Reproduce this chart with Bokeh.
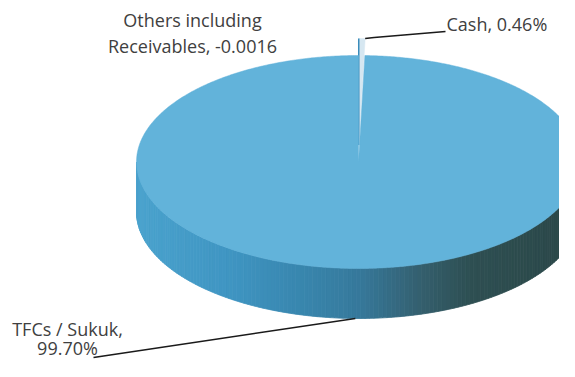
import numpy as np
from bokeh.plotting import figure
from bokeh.models import Range1d
from bokeh.core.properties import value
from bokeh.embed import file_html
from bokeh.resources import INLINE

# ---- data ----
categories = ["Cash", "TFCs / Sukuk", "Others including Receivables"]
values = [0.46, 99.70, -0.0016]
value_labels = ["0.46%", "99.70%", "-0.0016"]

# ---- layout / style ----
W, H = 559, 361
CX, CY = 358.0, 161.5      # centre of top face (picture pixels)
A, B = 222.0, 106.5        # ellipse radii
DEPTH = 50.0
EXPLODE = 17.0
TOP_COLORS = ["#d6e7f1", "#62b3da", "#62b3da"]
SIDE_STOPS = [(137, (74, 162, 205)), (230, (63, 149, 194)), (300, (56, 134, 174)),
              (360, (54, 120, 154)), (420, (52, 95, 110)), (470, (46, 79, 82)),
              (580, (43, 71, 72))]
TEXT_COLOR = "#404040"
FONT = "Open Sans"
FS = "18px"

p = figure(width=W, height=H, x_range=Range1d(0, W), y_range=Range1d(H, 0),
           output_backend="svg", toolbar_location=None, min_border=0)
p.axis.visible = False
p.grid.visible = False
p.outline_line_color = None
p.background_fill_color = "white"

def pt(phi_deg, dx=0.0, dy=0.0, depth=0.0):
    r = np.radians(phi_deg)
    return CX + A * np.sin(r) + dx, CY - B * np.cos(r) + dy + depth

# slice angles (clockwise from 12 o'clock)
pos = [max(v, 0) for v in values]
tot = sum(pos)
starts, ends = [], []
acc = 0.0
for v in pos:
    starts.append(acc / tot * 360)
    acc += v
    ends.append(acc / tot * 360)

def side_color(x):
    xs = [s[0] for s in SIDE_STOPS]
    c = [int(round(np.interp(x, xs, [s[1][k] for s in SIDE_STOPS]))) for k in range(3)]
    return "#%02x%02x%02x" % tuple(c)

# side band (front half) of the big slice, shaded left to right
i_big = 1
lo, hi = max(starts[i_big], 90), min(ends[i_big], 270)
phis = np.linspace(lo, hi, 160)
xs_list, ys_list, cols = [], [], []
for a0, a1 in zip(phis[:-1], phis[1:]):
    x0, y0 = pt(a0)
    x1, y1 = pt(a1)
    xs_list.append([x0, x1, x1, x0])
    ys_list.append([y0, y1, y1 + DEPTH, y0 + DEPTH])
    cols.append(side_color((x0 + x1) / 2))
p.patches(xs_list, ys_list, fill_color=cols, line_color=cols, line_width=0.8)

# top faces
offs = []
for i, (s, e) in enumerate(zip(starts, ends)):
    mid = np.radians((s + e) / 2)
    dx = EXPLODE * np.sin(mid) if i == 0 else 0.0
    dy = -EXPLODE * np.cos(mid) if i == 0 else 0.0
    offs.append((dx, dy))
    if e - s <= 0:
        continue
    ang = np.linspace(s, e, max(3, int((e - s) * 2)))
    px, py = zip(*[pt(a, dx, dy) for a in ang])
    xs = [CX + dx] + list(px)
    ys = [CY + dy] + list(py)
    p.patch(xs, ys, fill_color=TOP_COLORS[i], line_color=TOP_COLORS[i], line_width=0.5)
    if i == 0:
        tx, ty = pt(s, dx, dy)
        p.line([CX + dx, tx], [CY + dy, ty], line_color="#3a8cbb", line_width=1.5)

def label(x, ys, lines, align):
    p.text(x=[x] * len(lines), y=ys, text=lines, text_font=value(FONT),
           text_font_size=FS, text_color=TEXT_COLOR, text_baseline="middle",
           text_align=align)

# Cash label and leader
cx0, cy0 = pt(ends[0], *offs[0])
p.line([cx0, cx0 + 9, 445], [cy0, cy0 - 1, 31], line_color="#1a1a1a", line_width=1.5)
label(446, [23], [f"{categories[0]}, {value_labels[0]}"], "left")

# TFCs label and leader
mid_big = (starts[1] + ends[1]) / 2
bx, by = pt(mid_big, depth=DEPTH)
p.line([bx, 93], [by, 357], line_color="#1a1a1a", line_width=1.5)
label(67, [328, 347], [f"{categories[1]},", value_labels[1]], "center")

# Others label
words = categories[2].split(" ")
label(192, [19, 45], [" ".join(words[:2]), f"{words[2]}, {value_labels[2]}"], "center")

open("out.html", "w").write(file_html(p, INLINE))
